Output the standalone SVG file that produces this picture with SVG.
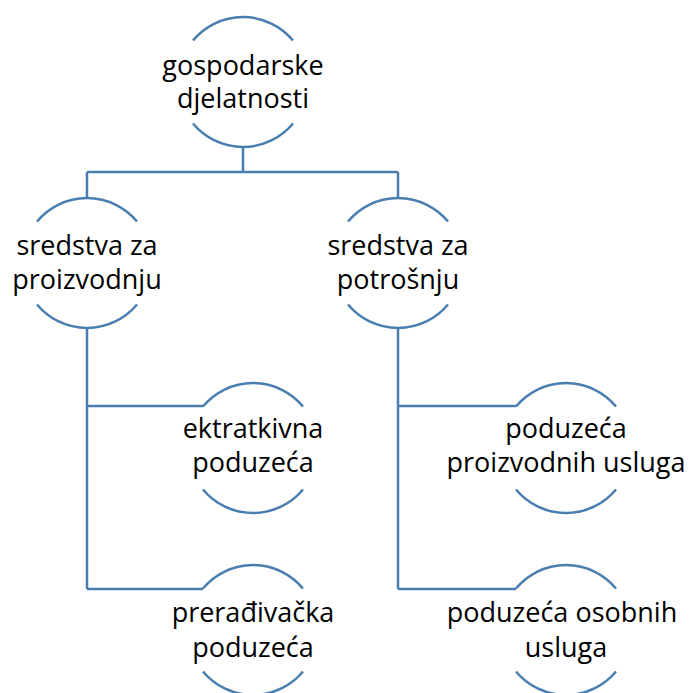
<svg xmlns="http://www.w3.org/2000/svg" width="689" height="693" viewBox="0 0 689 693">
<style>
.arc{fill:none;stroke:#4a7eb0;stroke-width:2.5}
.conn{fill:none;stroke:#4a7eb0;stroke-width:2.5}
text{font-family:"Open Sans","Liberation Sans",sans-serif;font-size:27px;fill:#000;text-anchor:middle}
</style>
<rect width="689" height="693" fill="#fff"/>
<g id="connectors">
<path class="conn" d="M243,147 V172 M87,172 H398 M87,172 V198 M398,172 V198"/>
<path class="conn" d="M87,328 V589 M87,406 H203 M87,589 H203"/>
<path class="conn" d="M398,328 V589 M398,406 H516 M398,589 H516"/>
</g>
<g id="n_root">
<path class="arc" d="M193,40.5 A65,65 0 0 1 293,40.5 M193,123.5 A65,65 0 0 0 293,123.5"/>
<text x="243" y="75">gospodarske</text>
<text x="243" y="108">djelatnosti</text>
</g>
<g id="n_proizvodnja">
<path class="arc" d="M37,221.5 A65,65 0 0 1 137,221.5 M37,304.5 A65,65 0 0 0 137,304.5"/>
<text x="87" y="255">sredstva za</text>
<text x="87" y="289">proizvodnju</text>
</g>
<g id="n_potrosnja">
<path class="arc" d="M348,221.5 A65,65 0 0 1 448,221.5 M348,304.5 A65,65 0 0 0 448,304.5"/>
<text x="398" y="255">sredstva za</text>
<text x="398" y="289">potrošnju</text>
</g>
<g id="n_ektraktivna">
<path class="arc" d="M203,406.5 A65,65 0 0 1 303,406.5 M203,489.5 A65,65 0 0 0 303,489.5"/>
<text x="253" y="438">ektratkivna</text>
<text x="253" y="472">poduzeća</text>
</g>
<g id="n_preradivacka">
<path class="arc" d="M203,588.5 A65,65 0 0 1 303,588.5 M203,671.5 A65,65 0 0 0 303,671.5"/>
<text x="253" y="622">prerađivačka</text>
<text x="253" y="657">poduzeća</text>
</g>
<g id="n_proizvodne_usluge">
<path class="arc" d="M516,406.5 A65,65 0 0 1 616,406.5 M516,489.5 A65,65 0 0 0 616,489.5"/>
<text x="566" y="438">poduzeća</text>
<text x="566" y="472">proizvodnih usluga</text>
</g>
<g id="n_osobne_usluge">
<path class="arc" d="M516,588.5 A65,65 0 0 1 616,588.5 M516,671.5 A65,65 0 0 0 616,671.5"/>
<text x="562" y="622">poduzeća osobnih</text>
<text x="566" y="657">usluga</text>
</g>
</svg>
